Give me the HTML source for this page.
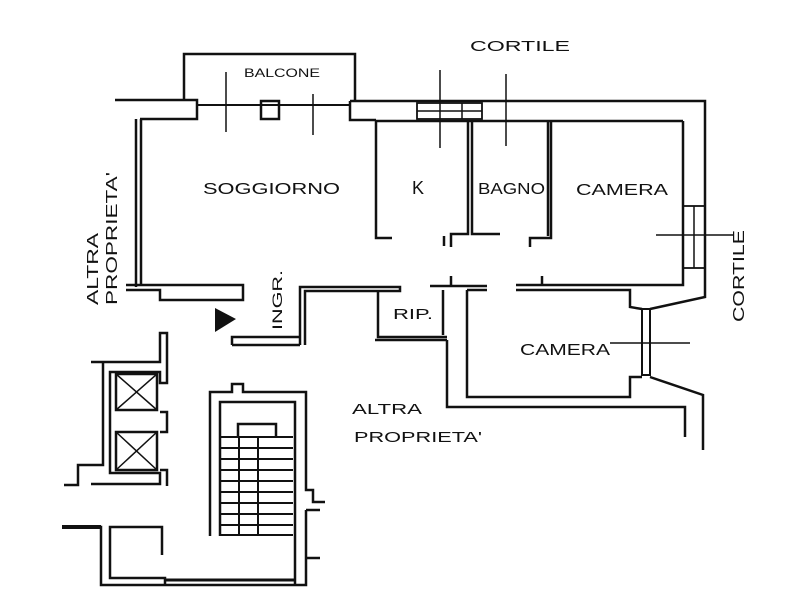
<!DOCTYPE html>
<html><head><meta charset="utf-8"><style>
html,body{margin:0;padding:0;background:#fff;}
svg{display:block;}
text{font-family:"Liberation Sans",sans-serif;fill:#111;}
</style></head><body>
<svg width="793" height="600" viewBox="0 0 793 600" xmlns="http://www.w3.org/2000/svg">
<g fill="none" stroke="#111" stroke-width="2.5" stroke-linejoin="miter">
<polyline points="184,100 184,54 355,54 355,101"/>
<polyline points="115,100 197,100 197,119 140,119"/>
<line x1="197" y1="105" x2="350" y2="105" stroke-width="2"/>
<rect x="261" y="101" width="18" height="18" stroke-width="2.5"/>
<line x1="226" y1="72" x2="226" y2="132" stroke-width="1.5"/>
<line x1="313" y1="94" x2="313" y2="135" stroke-width="1.5"/>
<polyline points="350,101 705,101 705,297 650,309"/>
<polyline points="350,101 350,120 376,120"/>
<line x1="376" y1="121" x2="683" y2="121"/>
<rect x="417" y="103" width="65" height="16" stroke-width="1.8"/>
<line x1="417" y1="111" x2="482" y2="111" stroke-width="1.5"/>
<line x1="462" y1="103" x2="462" y2="119" stroke-width="1.5"/>
<line x1="440" y1="70" x2="440" y2="148" stroke-width="1.5"/>
<line x1="506" y1="74" x2="506" y2="146" stroke-width="1.5"/>
<polyline points="683,121 683,285 516,285"/>
<rect x="683" y="206" width="22" height="62" stroke-width="1.8"/>
<line x1="694" y1="206" x2="694" y2="268" stroke-width="1.5"/>
<line x1="656" y1="235" x2="733" y2="235" stroke-width="1.5"/>
<polyline points="136,119 136,287"/>
<polyline points="141,119 141,285"/>
<polyline points="376,121 376,238 392,238"/>
<polyline points="468,121 468,234 451,234 451,247"/>
<polyline points="472,121 472,234 500,234"/>
<polyline points="551,121 551,238 530,238 530,247"/>
<polyline points="548,121 548,236"/>
<polyline points="444,236 444,246"/>
<polyline points="126,285 243,285 243,300 160,300 160,290 126,290"/>
<polyline points="300,345 300,287 400,287 400,291 305,291 305,345"/>
<polyline points="232,345 232,337 300,337"/>
<polyline points="232,345 300,345"/>
<polyline points="378,290 378,337 447,337"/>
<polyline points="375,340 447,340"/>
<polyline points="447,340 447,407 685,407 685,437"/>
<polyline points="443,290 443,335"/>
<polyline points="430,286 487,286"/>
<line x1="451" y1="276" x2="451" y2="286"/>
<line x1="542" y1="276" x2="542" y2="286"/>
<polyline points="467,290 467,397 630,397 630,377 642,377"/>
<polyline points="467,290 487,290"/>
<polyline points="516,290 630,290 630,307 642,309"/>
<rect x="642" y="309" width="8" height="66" stroke-width="2"/>
<polyline points="650,377 703,395 703,450"/>
<line x1="610" y1="343" x2="690" y2="343" stroke-width="1.5"/>
<polyline points="91,362 160,362 160,333 167,333 167,383 160,383 160,372 110,372 110,473 160,473 160,484 91,484"/>
<polyline points="103,362 103,465 78,465 78,485 64,485"/>
<rect x="116" y="374" width="41" height="36"/>
<line x1="116" y1="374" x2="157" y2="410" stroke-width="1.5"/>
<line x1="157" y1="374" x2="116" y2="410" stroke-width="1.5"/>
<rect x="116" y="432" width="41" height="38"/>
<line x1="116" y1="432" x2="157" y2="470" stroke-width="1.5"/>
<line x1="157" y1="432" x2="116" y2="470" stroke-width="1.5"/>
<polyline points="160,412 167,412 167,432 160,432"/>
<polyline points="160,470 167,470 167,486"/>
<polyline points="210,536 210,392 232,392 232,384 243,384 243,392 306,392 306,490 313,490 313,502 325,502"/>
<polyline points="220,536 220,402 295,402 295,585"/>
<polyline points="306,510 306,585 101,585 101,527 62,527"/>
<line x1="306" y1="510" x2="320" y2="510"/>
<line x1="306" y1="558" x2="320" y2="558"/>
<polyline points="162,555 162,527 110,527 110,578 165,578 165,585"/>
<line x1="62" y1="527" x2="101" y2="527" stroke-width="4"/>
<line x1="165" y1="580" x2="295" y2="580" stroke-width="3"/>
<polyline points="238,437 238,424 276,424 276,437"/>
<g stroke-width="2">
<line x1="220" y1="437" x2="293" y2="437"/>
<line x1="220" y1="448" x2="293" y2="448"/>
<line x1="220" y1="459" x2="293" y2="459"/>
<line x1="220" y1="470" x2="293" y2="470"/>
<line x1="220" y1="481" x2="293" y2="481"/>
<line x1="220" y1="492" x2="293" y2="492"/>
<line x1="220" y1="503" x2="293" y2="503"/>
<line x1="220" y1="514" x2="293" y2="514"/>
<line x1="220" y1="525" x2="293" y2="525"/>
<line x1="220" y1="535" x2="293" y2="535"/>
<line x1="239" y1="437" x2="239" y2="536"/>
<line x1="258" y1="437" x2="258" y2="536"/>
</g>
</g>
<polygon points="215,308 236,319 215,332" fill="#111"/>
<text x="470" y="51" font-size="15" textLength="100" lengthAdjust="spacingAndGlyphs">CORTILE</text>
<text x="244" y="77" font-size="12" textLength="76" lengthAdjust="spacingAndGlyphs">BALCONE</text>
<text x="203" y="194" font-size="16" textLength="137" lengthAdjust="spacingAndGlyphs">SOGGIORNO</text>
<text x="412" y="194" font-size="18">K</text>
<text x="478" y="194" font-size="16" textLength="67" lengthAdjust="spacingAndGlyphs">BAGNO</text>
<text x="576" y="195" font-size="16" textLength="92" lengthAdjust="spacingAndGlyphs">CAMERA</text>
<text x="393" y="319" font-size="15" textLength="40" lengthAdjust="spacingAndGlyphs">RIP.</text>
<text x="520" y="355" font-size="16" textLength="90" lengthAdjust="spacingAndGlyphs">CAMERA</text>
<text x="352" y="414" font-size="15" textLength="70" lengthAdjust="spacingAndGlyphs">ALTRA</text>
<text x="354" y="442" font-size="15" textLength="128" lengthAdjust="spacingAndGlyphs">PROPRIETA'</text>
<text transform="translate(98,305) rotate(-90)" font-size="16" textLength="72" lengthAdjust="spacingAndGlyphs">ALTRA</text>
<text transform="translate(117,305) rotate(-90)" font-size="16" textLength="133" lengthAdjust="spacingAndGlyphs">PROPRIETA'</text>
<text transform="translate(282,330) rotate(-90)" font-size="14" textLength="60" lengthAdjust="spacingAndGlyphs">INGR.</text>
<text transform="translate(744,322) rotate(-90)" font-size="16" textLength="92" lengthAdjust="spacingAndGlyphs">CORTILE</text>
</svg>
</body></html>
